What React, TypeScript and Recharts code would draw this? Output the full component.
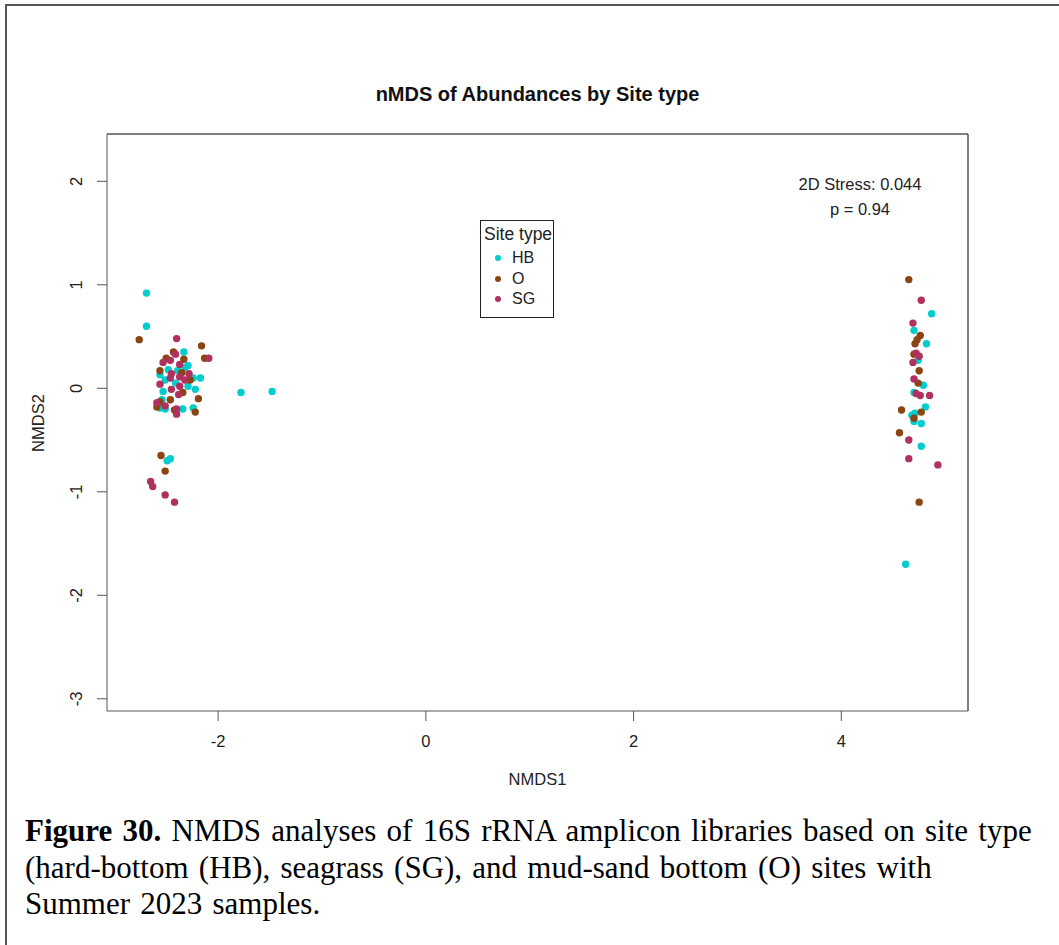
import { ScatterChart, Scatter, XAxis, YAxis, ReferenceLine, Legend } from "recharts";

// NMDS coordinates, by site type
const hbNMDS1 = [-2.69, -2.69, -2.33, -2.29, -2.32, -2.39, -2.17, -2.24, -2.56, -2.51, -2.29, -2.22, -2.53, -2.54, -2.56, -2.51, -2.34, -2.24, -1.78, -1.48, -2.46, -2.49, -2.41, -2.48,
  4.87, 4.7, 4.82, 4.74, 4.79, 4.7, 4.81, 4.68, 4.71, 4.7, 4.77, 4.77, 4.62];
const hbNMDS2 = [0.92, 0.6, 0.35, 0.22, 0.2, 0.17, 0.1, 0.1, 0.13, 0.08, 0.02, -0.01, -0.03, -0.11, -0.19, -0.2, -0.2, -0.19, -0.04, -0.03, -0.68, -0.7, 0.05, 0.18,
  0.72, 0.56, 0.43, 0.27, 0.03, -0.04, -0.18, -0.26, -0.24, -0.32, -0.34, -0.56, -1.7];

const oNMDS1 = [-2.76, -2.16, -2.13, -2.43, -2.33, -2.5, -2.56, -2.35, -2.27, -2.34, -2.46, -2.19, -2.59, -2.22, -2.42, -2.55, -2.51, -2.56,
  4.65, 4.76, 4.73, 4.71, 4.7, 4.75, 4.74, 4.58, 4.77, 4.7, 4.56, 4.75];
const oNMDS2 = [0.47, 0.41, 0.29, 0.35, 0.28, 0.29, 0.17, 0.15, 0.08, -0.04, -0.11, -0.1, -0.18, -0.23, -0.21, -0.65, -0.8, -0.13,
  1.05, 0.51, 0.47, 0.43, 0.33, 0.17, 0.05, -0.21, -0.23, -0.29, -0.43, -1.1];

const sgNMDS1 = [-2.4, -2.41, -2.53, -2.46, -2.37, -2.09, -2.28, -2.45, -2.37, -2.32, -2.46, -2.56, -2.37, -2.45, -2.38, -2.59, -2.51, -2.4, -2.4, -2.65, -2.63, -2.51, -2.42,
  4.77, 4.69, 4.72, 4.75, 4.69, 4.7, 4.72, 4.76, 4.85, 4.65, 4.65, 4.93];
const sgNMDS2 = [0.48, 0.33, 0.25, 0.27, 0.23, 0.29, 0.14, 0.14, 0.11, 0.08, 0.1, 0.04, 0.02, -0.01, -0.06, -0.14, -0.17, -0.2, -0.25, -0.9, -0.95, -1.03, -1.1,
  0.85, 0.63, 0.34, 0.31, 0.25, 0.09, -0.05, -0.07, -0.07, -0.5, -0.68, -0.74];

const siteTypes = ["HB", "O", "SG"];
const colors = ["#00CDCD", "#8B4513", "#B03060"];
const xTicks = [-2, 0, 2, 4];
const yTicks = [-3, -2, -1, 0, 1, 2];

const zip = (xs: number[], ys: number[]) => xs.map((x, i) => ({ x, y: ys[i] }));
const series = [zip(hbNMDS1, hbNMDS2), zip(oNMDS1, oNMDS2), zip(sgNMDS1, sgNMDS2)];

const X_MIN = -3.07, X_MAX = 5.22, Y_MIN = -3.118, Y_MAX = 2.457;
const font = "'Liberation Sans', Arial, sans-serif";
const frame = "#555";

const XTick = (props: any) => (
  <text x={props.x} y={props.y + 24} textAnchor="middle" fontSize={16.5} fontFamily={font} fill="#222">
    {props.payload.value}
  </text>
);

const YTick = (props: any) => {
  const x = props.x - 12.5;
  return (
    <text x={x} y={props.y} transform={`rotate(-90, ${x}, ${props.y})`} textAnchor="middle" fontSize={16.5} fontFamily={font} fill="#222">
      {props.payload.value}
    </text>
  );
};

const dot = (color: string) => (props: any) => <circle cx={props.cx} cy={props.cy} r={3.7} fill={color} />;

const LegendBox = () => (
  <div style={{ border: "1px solid #222", width: 74, height: 98, boxSizing: "border-box", fontFamily: font, color: "#222", position: "relative" }}>
    <div style={{ position: "absolute", left: 3, top: 3, fontSize: 17.5, whiteSpace: "nowrap" }}>Site type</div>
    {siteTypes.map((s, i) => (
      <div key={s} style={{ position: "absolute", left: 14, top: 28 + i * 20.5, fontSize: 16, display: "flex", alignItems: "center" }}>
        <span style={{ width: 6, height: 6, borderRadius: 3, background: colors[i], display: "inline-block", marginRight: 11 }} />
        {s}
      </div>
    ))}
  </div>
);

export default function App() {
  return (
    <div style={{ position: "absolute", left: 0, top: 0, width: 1059, height: 945, background: "#fff", overflow: "hidden" }}>
      <div style={{ position: "absolute", left: 5, top: 4, width: 1060, height: 950, borderTop: `2px solid ${frame}`, borderLeft: `2px solid ${frame}` }} />
      <div style={{ position: "absolute", left: 0, width: 1075, top: 83, textAlign: "center", fontFamily: font, fontWeight: "bold", fontSize: 20, color: "#111" }}>
        nMDS of Abundances by Site type
      </div>
      <ScatterChart width={1059} height={800} margin={{ top: 134, right: 91, bottom: 49, left: 67 }} style={{ position: "absolute", left: 0, top: 0 }}>
        <XAxis
          type="number"
          dataKey="x"
          domain={[X_MIN, X_MAX]}
          ticks={xTicks}
          height={40}
          tickSize={10}
          stroke={frame}
          tick={<XTick />}
          allowDataOverflow
        />
        <YAxis
          type="number"
          dataKey="y"
          domain={[Y_MIN, Y_MAX]}
          ticks={yTicks}
          width={40}
          tickSize={10}
          stroke={frame}
          tick={<YTick />}
          allowDataOverflow
        />
        <ReferenceLine y={Y_MAX} stroke={frame} strokeWidth={1.5} />
        <ReferenceLine x={X_MAX} stroke={frame} strokeWidth={1.5} />
        {series.map((d, i) => (
          <Scatter key={siteTypes[i]} name={siteTypes[i]} data={d} fill={colors[i]} shape={dot(colors[i])} isAnimationActive={false} />
        ))}
        <Legend
          layout="vertical"
          align="center"
          verticalAlign="middle"
          content={() => <LegendBox />}
          wrapperStyle={{ position: "absolute", left: 480, top: 220, width: 74, height: 98 }}
        />
      </ScatterChart>
      <div style={{ position: "absolute", left: 760, width: 200, top: 172, textAlign: "center", fontFamily: font, fontSize: 16.5, color: "#222", lineHeight: "25px" }}>
        2D Stress: 0.044<br />p = 0.94
      </div>
      <div style={{ position: "absolute", left: 0, width: 1075, top: 770, textAlign: "center", fontFamily: font, fontSize: 16.5, color: "#222" }}>
        NMDS1
      </div>
      <div style={{ position: "absolute", left: 38, top: 423, transform: "translate(-50%, -50%) rotate(-90deg)", fontFamily: font, fontSize: 16.5, color: "#222" }}>
        NMDS2
      </div>
      <div style={{ position: "absolute", left: 25, top: 813, fontFamily: "'Liberation Serif', 'Times New Roman', serif", fontSize: 31, wordSpacing: "2.5px", lineHeight: "36.5px", color: "#000", whiteSpace: "nowrap" }}>
        <b>Figure 30.</b> NMDS analyses of 16S rRNA amplicon libraries based on site type<br />
        (hard-bottom (HB), seagrass (SG), and mud-sand bottom (O) sites with<br />
        Summer 2023 samples.
      </div>
    </div>
  );
}
